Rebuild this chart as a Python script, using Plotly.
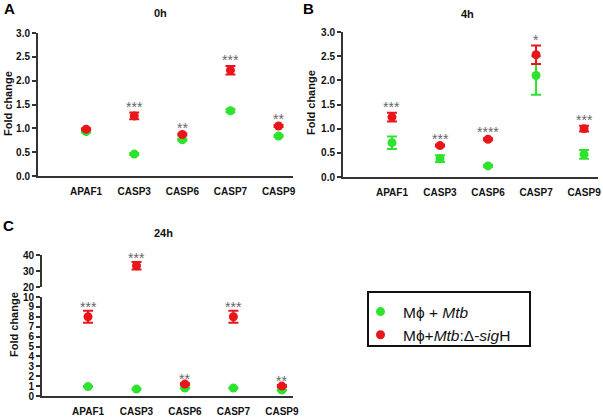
import plotly.graph_objects as go

genes = ["APAF1", "CASP3", "CASP6", "CASP7", "CASP9"]

# Panel A (0h)
a_green = [0.93, 0.46, 0.76, 1.37, 0.84]
a_green_err = [0.02, 0.02, 0.02, 0.03, 0.02]
a_red = [0.98, 1.26, 0.87, 2.22, 1.05]
a_red_err = [0.02, 0.07, 0.02, 0.09, 0.02]
a_stars = ["", "***", "**", "***", "**"]

# Panel B (4h)
b_green = [0.71, 0.38, 0.23, 2.10, 0.47]
b_green_err = [0.13, 0.07, 0.02, 0.40, 0.09]
b_red = [1.24, 0.65, 0.78, 2.53, 1.00]
b_red_err = [0.09, 0.02, 0.02, 0.19, 0.06]
b_stars = ["***", "***", "****", "*", "***"]

# Panel C (24h)
c_green = [0.95, 0.70, 0.80, 0.80, 0.60]
c_green_err = [0.05, 0.05, 0.05, 0.05, 0.05]
c_red = [8.0, 33.3, 1.2, 8.0, 1.0]
c_red_err = [0.6, 2.4, 0.1, 0.6, 0.1]
c_stars = ["***", "***", "**", "***", "**"]

y_ticks_ab = [0.0, 0.5, 1.0, 1.5, 2.0, 2.5, 3.0]
y_ticks_c_low = list(range(0, 11))
y_ticks_c_high = [20, 30, 40]
break_low = 10
break_high = 20

GREEN = "#2ee32e"
RED = "#e8161b"
AXC = "#333333"
W, H = 603, 417
FONT = "Liberation Sans"

legend_names = ["Mϕ + <i>Mtb</i>", "Mϕ+<i>Mtb</i>:Δ-<i>sig</i>H"]

fig = go.Figure()


def add_pair(xa, ya, green, gerr, red, rerr, show):
    for vals, errs, col, name in [(green, gerr, GREEN, legend_names[0]),
                                  (red, rerr, RED, legend_names[1])]:
        fig.add_trace(go.Scatter(
            x=genes, y=vals, mode="markers", xaxis=xa, yaxis=ya,
            name=name, legendgroup=name, showlegend=show,
            marker=dict(color=col, size=9, line=dict(width=0)),
            error_y=dict(type="data", array=errs, color=col, thickness=2, width=5),
            cliponaxis=False,
        ))


add_pair("x", "y", a_green, a_green_err, a_red, a_red_err, False)
add_pair("x2", "y2", b_green, b_green_err, b_red, b_red_err, False)

# Panel C: split across broken axis
c_red_low = [v if v <= break_low else None for v in c_red]
c_red_low_err = [e if v <= break_low else 0 for v, e in zip(c_red, c_red_err)]
c_red_high = [v if v >= break_high else None for v in c_red]
c_red_high_err = [e if v >= break_high else 0 for v, e in zip(c_red, c_red_err)]
add_pair("x3", "y3", c_green, c_green_err, c_red_low, c_red_low_err, True)
fig.add_trace(go.Scatter(
    x=genes, y=c_red_high, mode="markers", xaxis="x4", yaxis="y4", showlegend=False,
    marker=dict(color=RED, size=9),
    error_y=dict(type="data", array=c_red_high_err, color=RED, thickness=2, width=5),
    cliponaxis=False,
))

tickfont = dict(family=FONT, size=10, color="#111111", weight="bold")


def px_x(p):
    return p / W


def px_y(p):
    return 1 - p / H


def xax(domain, rng, visible=True, anchor="y"):
    return dict(domain=domain, range=rng, type="category", anchor=anchor,
                showline=visible, linecolor=AXC, linewidth=2, showgrid=False,
                zeroline=False, ticks="", tickfont=tickfont, ticklabelstandoff=5,
                showticklabels=visible, visible=visible, fixedrange=True,
                automargin=False)


def yax(domain, rng, tickvals, fmt, anchor):
    return dict(domain=domain, range=rng, anchor=anchor, tickvals=tickvals,
                tickformat=fmt, showline=True, linecolor=AXC, linewidth=2,
                ticks="outside", ticklen=4, tickwidth=1.5, tickcolor=AXC,
                showgrid=False, zeroline=False, tickfont=tickfont, fixedrange=True,
                automargin=False)


fig.update_layout(
    width=W, height=H, autosize=False,
    margin=dict(l=0, r=0, t=0, b=0),
    paper_bgcolor="white", plot_bgcolor="white",
    xaxis=xax([px_x(38), px_x(293)], [-1.0, 4.3], anchor="y"),
    yaxis=yax([px_y(176), px_y(33)], [0, 3], y_ticks_ab, ".1f", "x"),
    xaxis2=xax([px_x(343), px_x(598)], [-1.02, 4.29], anchor="y2"),
    yaxis2=yax([px_y(177), px_y(32)], [0, 3], y_ticks_ab, ".1f", "x2"),
    xaxis3=xax([px_x(42), px_x(293)], [-0.95, 4.23], anchor="y3"),
    yaxis3=yax([px_y(396), px_y(297)], [0, 10], y_ticks_c_low, "d", "x3"),
    xaxis4=xax([px_x(42), px_x(293)], [-0.95, 4.23], visible=False, anchor="y4"),
    yaxis4=yax([px_y(287), px_y(255)], [20, 40], y_ticks_c_high, "d", "x4"),
    showlegend=True,
    legend=dict(x=px_x(358), y=px_y(295), xanchor="left", yanchor="top",
                bgcolor="rgba(0,0,0,0)", borderwidth=0, tracegroupgap=0,
                itemwidth=35,
                font=dict(family=FONT, size=15.5, color="#111111"),
                itemclick=False, itemdoubleclick=False),
)

fig.add_shape(type="rect", xref="paper", yref="paper",
              x0=px_x(368), x1=px_x(530), y0=px_y(346), y1=px_y(292),
              line=dict(color="#111111", width=2), fillcolor="rgba(0,0,0,0)")

star_font = dict(family=FONT, size=14, color="#666666")


def add_stars(xref, yref, red, rerr, green, gerr, stars, shift):
    for g, rv, re, gv, ge, s in zip(genes, red, rerr, green, gerr, stars):
        if not s:
            continue
        top = max(rv + re, gv + ge)
        fig.add_annotation(x=g, y=top, xref=xref, yref=yref, text=s, showarrow=False,
                           yanchor="middle", yshift=shift, font=star_font)


add_stars("x", "y", a_red, a_red_err, a_green, a_green_err, a_stars, 6)
add_stars("x2", "y2", b_red, b_red_err, b_green, b_green_err, b_stars, 6)
c_low_top = [v if v is not None else 0 for v in c_red_low]
add_stars("x3", "y3", c_low_top, c_red_low_err, c_green, c_green_err,
          [s if v is not None else "" for s, v in zip(c_stars, c_red_low)], 4)
c_high_top = [v if v is not None else 0 for v in c_red_high]
add_stars("x4", "y4", c_high_top, c_red_high_err, [0] * 5, [0] * 5,
          [s if v is not None else "" for s, v in zip(c_stars, c_red_high)], 4)

title_font = dict(family=FONT, size=11, color="#111111", weight="bold")
letter_font = dict(family=FONT, size=15, color="#000000", weight="bold")
for txt, x, y in [("0h", 160, 13), ("4h", 467, 14), ("24h", 163, 233)]:
    fig.add_annotation(x=px_x(x), y=px_y(y), xref="paper", yref="paper", text=txt,
                       showarrow=False, font=title_font, xanchor="center", yanchor="middle")
for txt, x, y in [("A", 9, 9), ("B", 308, 9), ("C", 8, 225)]:
    fig.add_annotation(x=px_x(x), y=px_y(y), xref="paper", yref="paper", text=txt,
                       showarrow=False, font=letter_font, xanchor="center", yanchor="middle")
for x, y in [(8, 104), (311, 103), (14, 325)]:
    fig.add_annotation(x=px_x(x), y=px_y(y), xref="paper", yref="paper",
                       text="Fold change", textangle=-90, showarrow=False,
                       font=title_font, xanchor="center", yanchor="middle")

fig.write_html("out.html", config={"displayModeBar": False},
               post_script="document.body.style.margin='0';document.body.style.overflow='hidden';")
